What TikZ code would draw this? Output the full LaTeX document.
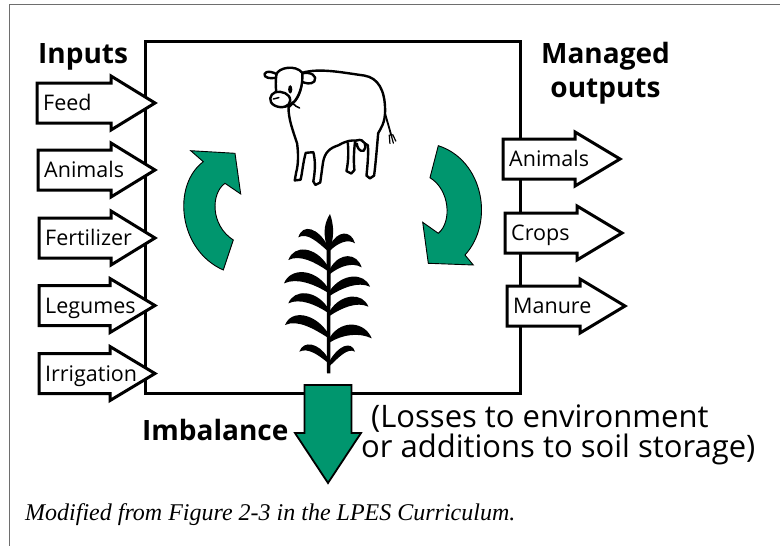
\documentclass[tikz,border=0pt]{standalone}
\usepackage{fontspec}
\setmainfont{Open Sans}
\newfontfamily\capfont{Liberation Serif}
\definecolor{grn}{RGB}{0,150,110}
\definecolor{framec}{RGB}{110,110,110}
\newcommand\blockarrow[6]{%
  \draw[blk] (#2,#3-20) -- (#4,#3-20) -- (#4,#3-27) -- (#5,#3) -- (#4,#3+27) -- (#4,#3+20) -- (#2,#3+20) -- cycle;
  \node[lbl, anchor=base west] (#1) at (#2+6,#3+7.5) {#6};}
\newcommand\cornleaf[5]{%
  \fill (#1,#2-4) .. controls ({#1+(#3-#1)*0.3},{#2-#5}) and ({#3+(#1-#3)*0.15},{#4-0.8*#5}) .. (#3,#4)
    .. controls ({#3+(#1-#3)*0.3},{#4-0.3*#5}) and ({#1+(#3-#1)*0.3},{#2-0.2*#5}) .. (#1,#2+12) -- cycle;}
\begin{document}
\begin{tikzpicture}[x=1pt,y=-1pt,
  blk/.style={draw=black, fill=white, line width=3pt, line join=miter},
  lbl/.style={inner sep=0pt, font=\fontsize{21.5}{25}\selectfont},
  head/.style={inner sep=0pt, font=\fontsize{28}{34}\selectfont\bfseries},
  loss/.style={inner sep=0pt, font=\fontsize{31}{32}\selectfont},
  grnarrow/.style={fill=grn, draw=black, line width=0.9pt, line join=miter},
  cow/.style={draw=black, line width=2.4pt, line join=round, line cap=round}]
\useasboundingbox (0,0) rectangle (780,546);
\fill[white] (0,0) rectangle (780,546);
\draw[framec, line width=1.5pt] (9.5,546) -- (9.5,4.5) -- (780,4.5);
\node[draw, line width=3.2pt, minimum width=375.5pt, minimum height=352.5pt, inner sep=0pt, anchor=north west] (sys) at (143.5,39.5) {};

% cow
\begin{scope}[shift={(254,59)}, scale=0.345]
  \draw[cow, fill=white] (272,243) .. controls (275,280) and (272,305) .. (268,325) -- (282,332) -- (291,322) .. controls (288,290) and (290,265) .. (293,238);
  \draw[cow, fill=white] (140,40) .. controls (190,25) and (260,40) .. (320,48) .. controls (360,55) and (380,90) .. (380,150)
    .. controls (380,185) and (368,200) .. (360,215) .. controls (356,260) and (352,310) .. (348,338) -- (336,346) -- (326,338)
    .. controls (330,300) and (332,270) .. (330,250) .. controls (300,228) and (270,235) .. (245,250)
    .. controls (220,258) and (205,270) .. (200,300) -- (192,358) -- (178,365) -- (172,355)
    .. controls (178,320) and (178,295) .. (172,270) -- (150,272) .. controls (142,300) and (140,330) .. (135,350)
    -- (118,352) -- (122,330) .. controls (130,300) and (128,270) .. (125,245) .. controls (112,205) and (100,175) .. (100,140)
    -- (120,120) .. controls (135,100) and (140,75) .. (140,40) -- cycle;
  \draw[cow, fill=white] (298,236) .. controls (320,228) and (330,255) .. (318,266) .. controls (306,270) and (298,255) .. (298,245);
  \draw[cow, line width=1.8pt] (379,155) .. controls (386,180) and (392,200) .. (398,222);
  \draw[cow, line width=1.2pt] (392,220) -- (394,245) (398,222) -- (404,244) (402,219) -- (411,238);
  \draw[cow, fill=white] (66,44) .. controls (40,30) and (25,40) .. (32,50) .. controls (40,58) and (60,56) .. (66,53);
  \draw[cow, fill=white] (138,42) .. controls (165,35) and (185,50) .. (175,65) .. controls (165,75) and (148,70) .. (139,66);
  \draw[cow, fill=white] (65,45) .. controls (70,25) and (120,15) .. (140,40) .. controls (142,70) and (135,100) .. (118,122)
    .. controls (105,135) and (90,140) .. (80,138) .. controls (65,120) and (60,80) .. (65,45) -- cycle;
  \draw[cow, fill=white] (62,96) .. controls (45,102) and (40,125) .. (60,135) .. controls (80,145) and (105,138) .. (105,120)
    .. controls (105,100) and (80,92) .. (62,96) -- cycle;
  \draw[cow, line width=1.5pt] (56,116) -- (72,112);
  \fill (105,88) ellipse [x radius=6, y radius=12];
  \draw[cow, line width=1.6pt] (110,125) .. controls (118,135) and (125,140) .. (132,142);
\end{scope}

% corn plant
\begin{scope}[shift={(270,210)}, scale=1/3]
  \fill (170,80) -- (182,80) -- (181,490) -- (171,490) -- cycle;
  \fill (169,105) .. controls (158,60) and (166,35) .. (180,12) .. controls (190,40) and (193,70) .. (184,105) -- cycle;
  \cornleaf{172}{110}{85}{82}{55}
  \cornleaf{172}{170}{55}{150}{60}
  \cornleaf{172}{235}{42}{220}{60}
  \cornleaf{172}{295}{55}{280}{55}
  \cornleaf{172}{370}{45}{345}{60}
  \cornleaf{172}{445}{88}{425}{45}
  \cornleaf{180}{110}{255}{100}{50}
  \cornleaf{180}{180}{275}{172}{55}
  \cornleaf{180}{245}{300}{230}{55}
  \cornleaf{180}{305}{295}{290}{55}
  \cornleaf{180}{385}{305}{385}{60}
  \cornleaf{180}{455}{255}{425}{45}
\end{scope}

% green cycle arrows
\draw[grnarrow] (190.7,150.7) -- (235,153.3) -- (240.7,194) -- (225,183.3) .. controls (211,193) and (210,225) .. (233.3,240)
  -- (223.3,270) .. controls (178,250) and (172,185) .. (203.3,161.7) -- cycle;
\draw[grnarrow] (438.3,145.7) .. controls (483,160) and (495,222) .. (465,255) -- (473.3,265) -- (428.3,263.3) -- (422.7,222.3)
  -- (438.3,233.3) .. controls (452,222) and (450,190) .. (430,177.7) -- cycle;

% inputs
\blockarrow{feed}{37}{103}{111}{155}{Feed}
\blockarrow{inanimals}{38}{170}{111}{155}{Animals}
\blockarrow{fert}{39}{238}{111}{155}{Fertilizer}
\blockarrow{legumes}{39}{305.5}{110}{155}{Legumes}
\blockarrow{irrig}{39}{373.5}{110}{155}{Irrigation}

% outputs
\blockarrow{outanimals}{503}{159}{575}{620}{Animals}
\blockarrow{crops}{505}{233}{577}{622}{Crops}
\blockarrow{manure}{507}{306}{580}{625}{Manure}

% imbalance arrow
\draw[fill=grn, draw=black, line width=1.8pt, line join=miter] (304.5,385) -- (351.5,385) -- (351.5,433) -- (361,433) -- (328,483) -- (295,433) -- (304.5,433) -- cycle;

% texts
\node[head, anchor=base west] (inputs) at (38,63) {Inputs};
\node[head, anchor=base] (mout1) at (605.5,63) {Managed};
\node[head, anchor=base] (mout2) at (605.5,97) {outputs};
\node[head, anchor=base west] (imb) at (142,440) {Imbalance};
\node[loss, anchor=base west] (loss1) at (371,427) {(Losses to environment};
\node[loss, anchor=base west] (loss2) at (361,457) {or additions to soil storage)};
\node[inner sep=0pt, anchor=base west, font=\capfont\itshape\fontsize{24}{28}\selectfont] (cap) at (25,520) {Modified from Figure 2-3 in the LPES Curriculum.};
\end{tikzpicture}
\end{document}
